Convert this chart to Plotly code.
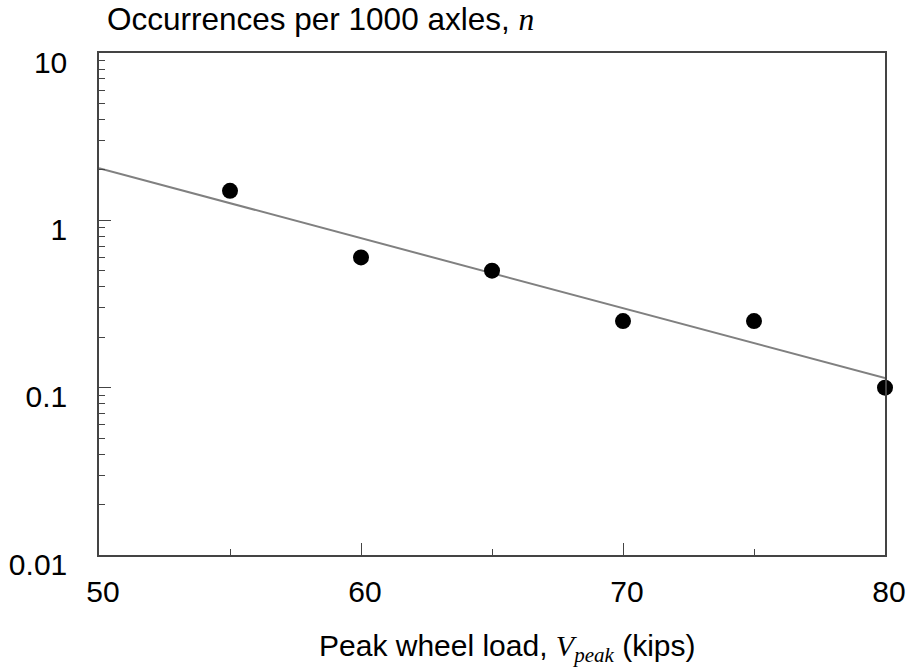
import plotly.graph_objects as go

# Data
load_kips = [55, 60, 65, 70, 75, 80]
occurrences = [1.5, 0.6, 0.5, 0.25, 0.25, 0.1]
fit_x = [50, 80]
fit_y = [2.05, 0.114]

y_tickvals = [0.01, 0.1, 1, 10]
y_ticktext = ["0.01", "0.1", "1", "10"]
x_tickvals = [50, 60, 70, 80]

FONT = "Liberation Sans, Arial, sans-serif"

fig = go.Figure()
fig.add_trace(go.Scatter(x=fit_x, y=fit_y, mode="lines",
                         line=dict(color="#808080", width=2), showlegend=False,
                         hoverinfo="skip"))
fig.add_trace(go.Scatter(x=load_kips, y=occurrences, mode="markers",
                         marker=dict(color="black", size=16), showlegend=False,
                         cliponaxis=False))

axis_col = "#444444"
fig.update_xaxes(range=[50, 80], showline=True, linecolor=axis_col, linewidth=1.5,
                 mirror=True, showgrid=False, zeroline=False,
                 ticks="inside", ticklen=12, tickcolor=axis_col, tickwidth=1,
                 tickvals=x_tickvals, ticklabelstandoff=9, ticklabelshift=4,
                 minor=dict(ticks="inside", ticklen=6, tickcolor=axis_col, dtick=5, showgrid=False),
                 tickfont=dict(family=FONT, size=30, color="black"))
fig.update_yaxes(type="log", range=[-2, 1], showline=True, linecolor=axis_col, linewidth=1.5,
                 mirror=True, showgrid=False, zeroline=False,
                 ticks="inside", ticklen=12, tickcolor=axis_col, tickwidth=1,
                 tickvals=y_tickvals, ticktext=y_ticktext, ticklabelstandoff=24,
                 ticklabelshift=9,
                 minor=dict(ticks="inside", ticklen=6, tickcolor=axis_col, dtick="D1", showgrid=False),
                 tickfont=dict(family=FONT, size=30, color="black"))

fig.add_annotation(xref="paper", yref="paper", x=0.007, y=1, xanchor="left", yanchor="middle",
                   yshift=34, showarrow=False,
                   text="Occurrences per 1000 axles, <span style='font-family:Liberation Serif'><i>n</i></span>",
                   font=dict(family=FONT, size=31.5, color="black"))
fig.add_annotation(xref="paper", yref="paper", x=0.519, y=0, xanchor="center", yanchor="middle",
                   yshift=-93, showarrow=False,
                   text="Peak wheel load, <span style='font-family:Liberation Serif'><i>V</i><sub><i>peak</i></sub></span> (kips)",
                   font=dict(family=FONT, size=30, color="black"))

fig.update_layout(width=908, height=672, margin=dict(l=99, r=23, t=53, b=117, autoexpand=False),
                  plot_bgcolor="white", paper_bgcolor="white",
                  font=dict(family=FONT, size=26, color="black"))

fig.write_html("out.html")
